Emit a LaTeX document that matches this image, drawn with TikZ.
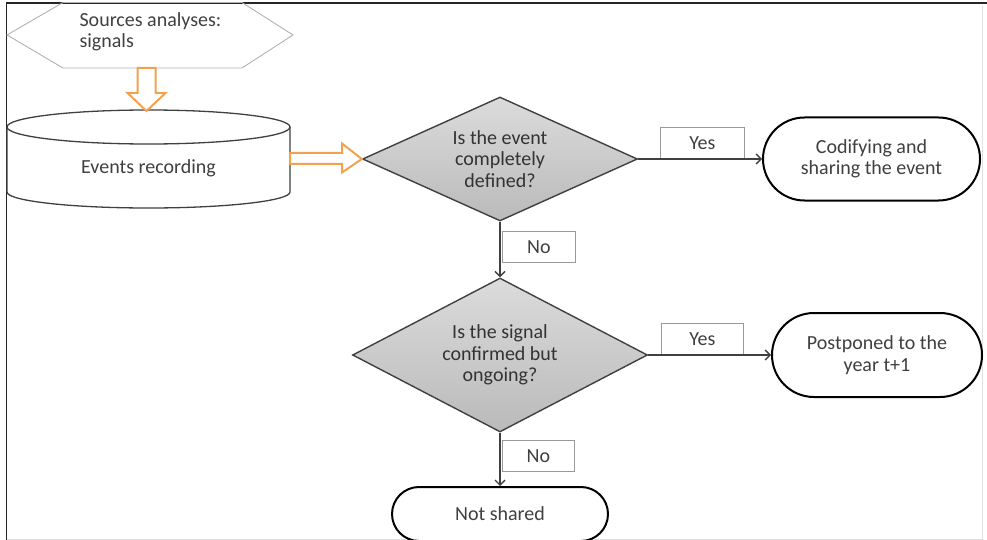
\documentclass[tikz,border=0pt]{standalone}
\usepackage{fontspec}
\setmainfont{Carlito}
\usetikzlibrary{shapes.geometric,shapes.misc,arrows.meta,calc}
\definecolor{arrowor}{HTML}{F2A24E}
\definecolor{txtgray}{HTML}{404040}
\begin{document}
\begin{tikzpicture}[x=1pt,y=-1pt,
  txt/.style={text=txtgray, font=\fontsize{20}{21.5}\selectfont, align=center},
  term/.style={txt, rounded rectangle, draw=black, line width=2, inner sep=0, fill=white},
  decision/.style={txt, text=black!80, diamond, draw=black!75, line width=1.4, top color=black!14, bottom color=black!27, inner sep=0},
  lbl/.style={txt, draw=black!40, line width=0.9, inner sep=0, minimum height=31},
  flow/.style={draw=txtgray, line width=1.4, -{Straight Barb[length=5pt,width=10pt]}},
  hollow/.style={draw=arrowor, line width=2, fill=white, line join=miter},
  cylline/.style={draw=txtgray, line width=1.3},
  hexline/.style={draw=black!30, line width=0.9}
]
\useasboundingbox (0,0) rectangle (987,540);
% frame
\draw[black!12, line width=1] (982,6) -- (982,539) -- (6,539);
\draw[black!85, line width=1.4] (987,3) -- (6.5,3) -- (6.5,540);

% source hexagon
\draw[hexline] (7,35) -- (63,2.5) -- (242,2.5) -- (293,35) -- (242,68) -- (63,68) -- cycle;
\node[txt, align=left, anchor=west] (src) at (76,32) {Sources analyses:\\signals};
\coordinate (srcb) at (146.5,68);

% cylinder
\draw[cylline, fill=white] (7,127) -- (7,192) arc[start angle=180, end angle=0, x radius=141.5, y radius=16] -- (290,127);
\draw[cylline] (148.5,127) ellipse [x radius=141.5, y radius=17];
\node[txt] (cyl) at (148.5,168) {Events recording};
\coordinate (cyltop) at (146.5,111);
\coordinate (cylr) at (290,158.5);

% decisions
\node[decision, minimum width=275, minimum height=124, aspect=2.2] (d1) at (500,159) {Is the event\\completely\\defined?};
\node[decision, minimum width=295, minimum height=154, aspect=1.9] (d2) at (500,355) {Is the signal\\confirmed but\\ongoing?};

% hollow orange arrows
\draw[hollow] ($(srcb)+(-9,0)$) -- ($(srcb)+(9,0)$) -- ($(srcb)+(9,25)$) -- ($(srcb)+(19,25)$)
  -- (cyltop) -- ($(srcb)+(-19,25)$) -- ($(srcb)+(-9,25)$) -- cycle;
\draw[hollow] ($(cylr)+(0,-5.5)$) -- ($(cylr)+(52,-5.5)$) -- ($(cylr)+(52,-15)$) -- (d1.west)
  -- ($(cylr)+(52,14)$) -- ($(cylr)+(52,5.5)$) -- ($(cylr)+(0,5.5)$) -- cycle;

% terminals
\node[term, minimum width=217, minimum height=83] (t1) at (871.5,159) {Codifying and\\sharing the event};
\node[term, minimum width=210, minimum height=84] (t2) at (877,355) {Postponed to the\\year t+1};
\node[term, minimum width=216, minimum height=54] (t3) at (500,514) {Not shared};

% labels
\node[lbl, minimum width=84, anchor=south west] (y1) at (660,159) {Yes};
\node[lbl, minimum width=82, anchor=south west] (y2) at (661,355) {Yes};
\node[lbl, minimum width=73, anchor=north west] (n1) at (502,231) {No};
\node[lbl, minimum width=72, anchor=north west] (n2) at (502,440) {No};

% connectors
\draw[flow] (d1.east) -- (t1.west);
\draw[flow] (d1.south) -- (d2.north);
\draw[flow] (d2.east) -- (t2.west);
\draw[flow] (d2.south) -- (t3.north);
\end{tikzpicture}
\end{document}
